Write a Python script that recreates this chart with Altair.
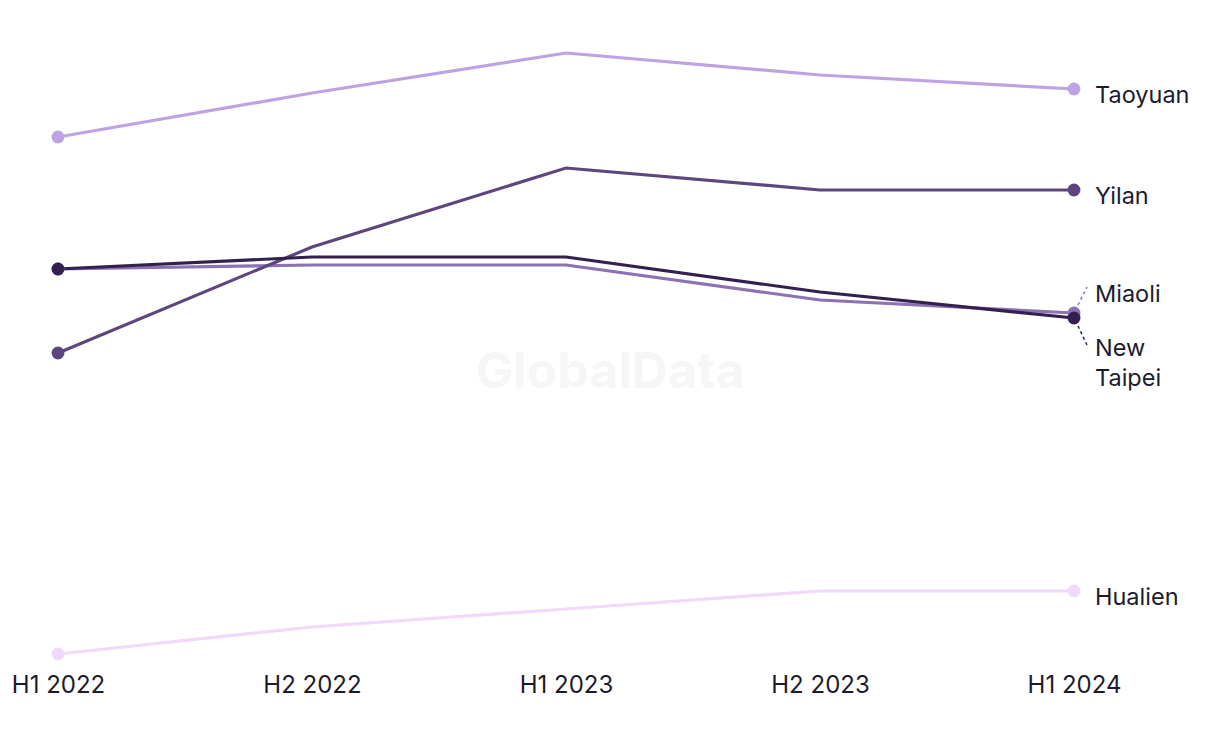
import altair as alt
import pandas as pd

periods = ["H1 2022", "H2 2022", "H1 2023", "H2 2023", "H1 2024"]
series = ["Hualien", "Taoyuan", "Miaoli", "Yilan", "New Taipei"]
taoyuan = [54.3, 58.7, 62.7, 60.5, 59.1]
yilan = [32.7, 43.3, 51.2, 49.0, 49.0]
new_taipei = [41.1, 42.3, 42.3, 38.8, 36.2]
miaoli = [41.1, 41.5, 41.5, 38.0, 36.7]
hualien = [2.6, 5.3, 7.1, 8.9, 8.9]
colors = ["#f0d9fb", "#bea3e4", "#8c72b3", "#5d4580", "#33204f"]

values = {"Taoyuan": taoyuan, "Yilan": yilan, "New Taipei": new_taipei,
          "Miaoli": miaoli, "Hualien": hualien}
rows = []
for s in series:
    for i, p in enumerate(periods):
        rows.append({"region": s, "period": p, "value": values[s][i],
                     "order": series.index(s)})
df = pd.DataFrame(rows)

FONT = "Inter"
TEXT = "#1c1b2e"
LABEL_SIZE = 23.5

x = alt.X("period:N", sort=periods, scale=alt.Scale(type="point", padding=0),
          axis=alt.Axis(title=None, ticks=False, domain=False, grid=False,
                        labelAngle=0, labelPadding=19, labelFontSize=24,
                        labelFont=FONT, labelColor=TEXT))
y = alt.Y("value:Q", scale=alt.Scale(domain=[2.6, 62.7], zero=False, nice=False),
          axis=None)
color = alt.Color("region:N", scale=alt.Scale(domain=series, range=colors), legend=None)

base = alt.Chart(df)

watermark = alt.Chart(pd.DataFrame({"t": ["GlobalData"]})).mark_text(
    fontSize=50, fontWeight="bold", font=FONT, color="#f6f6f6"
).encode(x=alt.value(552), y=alt.value(320), text="t:N")

lines = base.mark_line(strokeWidth=3.2).encode(x=x, y=y, color=color, detail="region:N",
                                                order=alt.Order("order:Q"))

ends = base.transform_filter(
    alt.FieldOneOfPredicate(field="period", oneOf=[periods[0], periods[-1]])
).mark_circle(size=165, opacity=1).encode(x=x, y=y, color=color)

last = base.transform_filter(alt.datum.period == periods[-1])

normal_labels = last.transform_filter(
    alt.FieldOneOfPredicate(field="region", oneOf=["Taoyuan", "Yilan", "Hualien"])
).mark_text(align="left", baseline="middle", dx=21, dy=7, fontSize=LABEL_SIZE, font=FONT,
            color=TEXT).encode(x=x, y=y, text="region:N")

miaoli_label = last.transform_filter(alt.datum.region == "Miaoli").mark_text(
    align="left", baseline="middle", dx=21, dy=-18, fontSize=LABEL_SIZE, font=FONT, color=TEXT
).encode(x=x, y=y, text="region:N")

nt_label = last.transform_filter(alt.datum.region == "New Taipei").mark_text(
    align="left", baseline="top", dx=21, dy=19, fontSize=LABEL_SIZE, font=FONT, color=TEXT,
    lineBreak=" ", lineHeight=30
).encode(x=x, y=y, text="region:N")

miaoli_leader = last.transform_filter(alt.datum.region == "Miaoli").mark_rule(
    strokeDash=[3, 3], strokeWidth=1.5, color="#8c72b3", xOffset=4, yOffset=-8,
    x2Offset=13, y2Offset=-26
).encode(x=x, y=y, x2=alt.X2("period:N"), y2=alt.Y2("value:Q"))

nt_leader = last.transform_filter(alt.datum.region == "New Taipei").mark_rule(
    strokeDash=[3, 3], strokeWidth=1.5, color="#33204f", xOffset=4, yOffset=8,
    x2Offset=13, y2Offset=27
).encode(x=x, y=y, x2=alt.X2("period:N"), y2=alt.Y2("value:Q"))

chart = alt.layer(
    watermark, lines, miaoli_leader, nt_leader, ends, normal_labels, miaoli_label, nt_label
).properties(
    width=1016, height=601,
    autosize=alt.AutoSizeParams(type="none"),
    padding={"left": 50, "top": 45, "right": 130, "bottom": 70},
).configure(background="white").configure_view(strokeWidth=0, stroke="transparent")

chart.save("out.html", embed_options={"renderer": "svg", "actions": False})
